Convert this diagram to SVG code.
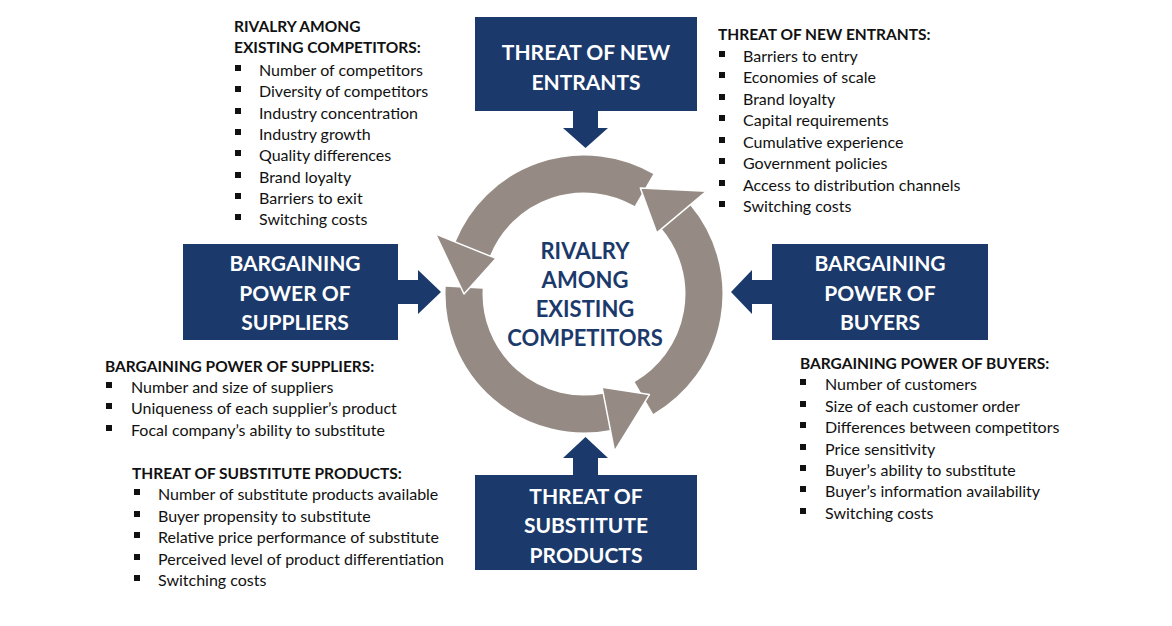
<svg xmlns="http://www.w3.org/2000/svg" width="1172" height="626" viewBox="0 0 1172 626">
<style>
.box{fill:#1b3a6b}
.bt{font-family:Lato,"Open Sans",sans-serif;font-weight:bold;font-size:21px;fill:#fff;text-anchor:middle}
.ct{font-family:Lato,"Open Sans",sans-serif;font-weight:bold;font-size:22px;fill:#1b3a6b;text-anchor:middle}
.h{font-family:Lato,"Open Sans",sans-serif;font-weight:bold;font-size:15.5px;fill:#111}
.t{font-family:Lato,"Open Sans",sans-serif;font-size:16px;fill:#111}
.b{fill:#111}
.ring{fill:none;stroke:#958b84;stroke-width:37}
.head{fill:#958b84;stroke:#fff;stroke-width:1.5;stroke-linejoin:round}
</style>
<defs><rect id="sq" width="6" height="6" class="b"/></defs>
<rect width="1172" height="626" fill="#fff"/>
<g id="cycle">
<path class="ring" d="M675.9,216.9 A120,120 0 0 1 644,397.9"/>
<path class="ring" d="M606.9,411.8 A120,120 0 0 1 464.2,287.7"/>
<path class="ring" d="M472.7,249 A120,120 0 0 1 644,190.1"/>
<polygon class="head" points="656.8,232.9 706.6,191.2 640.3,188.1"/>
<polygon class="head" points="602.1,387.3 614.5,451.1 649.4,394.6"/>
<polygon class="head" points="495.9,258.4 435.6,234.1 464,294"/>
<text class="ct" x="585" y="259">RIVALRY</text>
<text class="ct" x="585" y="288">AMONG</text>
<text class="ct" x="585" y="317">EXISTING</text>
<text class="ct" x="585" y="346">COMPETITORS</text>
</g>
<g id="connectors">
<polygon class="box" points="573,111 598,111 598,128 608,128 585.5,148 563,128 573,128"/>
<polygon class="box" points="398,280 418,280 418,270 441,292 418,314 418,304 398,304"/>
<polygon class="box" points="772,280 752,280 752,270 731,292 752,314 752,304 772,304"/>
<polygon class="box" points="573,475 598,475 598,458 608,458 585.5,437 563,458 573,458"/>
</g>
<g id="new-entrants"><rect class="box" x="475" y="17" width="222" height="94"/>
<text class="bt" x="586" y="60">THREAT OF NEW</text><text class="bt" x="586" y="90">ENTRANTS</text></g>
<g id="suppliers"><rect class="box" x="183" y="244" width="215" height="96"/>
<text class="bt" x="295" y="271">BARGAINING</text><text class="bt" x="295" y="301">POWER OF</text><text class="bt" x="295" y="330">SUPPLIERS</text></g>
<g id="buyers"><rect class="box" x="772" y="244" width="216" height="96"/>
<text class="bt" x="880" y="271">BARGAINING</text><text class="bt" x="880" y="301">POWER OF</text><text class="bt" x="880" y="330">BUYERS</text></g>
<g id="substitutes"><rect class="box" x="475" y="475" width="222" height="95"/>
<text class="bt" x="586" y="504">THREAT OF</text><text class="bt" x="586" y="533">SUBSTITUTE</text><text class="bt" x="586" y="563">PRODUCTS</text></g>
<g id="list-rivalry">
<text class="h" x="234" y="32">RIVALRY AMONG</text><text class="h" x="234" y="53">EXISTING COMPETITORS:</text>
<use href="#sq" x="235" y="65"/><text class="t" x="259" y="76">Number of competitors</text>
<use href="#sq" x="235" y="86"/><text class="t" x="259" y="97">Diversity of competitors</text>
<use href="#sq" x="235" y="108"/><text class="t" x="259" y="119">Industry concentration</text>
<use href="#sq" x="235" y="129"/><text class="t" x="259" y="140">Industry growth</text>
<use href="#sq" x="235" y="150"/><text class="t" x="259" y="161">Quality differences</text>
<use href="#sq" x="235" y="172"/><text class="t" x="259" y="183">Brand loyalty</text>
<use href="#sq" x="235" y="193"/><text class="t" x="259" y="204">Barriers to exit</text>
<use href="#sq" x="235" y="214"/><text class="t" x="259" y="225">Switching costs</text>
</g>
<g id="list-entrants">
<text class="h" x="718" y="40">THREAT OF NEW ENTRANTS:</text>
<use href="#sq" x="719" y="51"/><text class="t" x="743" y="62">Barriers to entry</text>
<use href="#sq" x="719" y="72"/><text class="t" x="743" y="83">Economies of scale</text>
<use href="#sq" x="719" y="94"/><text class="t" x="743" y="105">Brand loyalty</text>
<use href="#sq" x="719" y="115"/><text class="t" x="743" y="126">Capital requirements</text>
<use href="#sq" x="719" y="137"/><text class="t" x="743" y="148">Cumulative experience</text>
<use href="#sq" x="719" y="158"/><text class="t" x="743" y="169">Government policies</text>
<use href="#sq" x="719" y="180"/><text class="t" x="743" y="191">Access to distribution channels</text>
<use href="#sq" x="719" y="201"/><text class="t" x="743" y="212">Switching costs</text>
</g>
<g id="list-suppliers">
<text class="h" x="105" y="372">BARGAINING POWER OF SUPPLIERS:</text>
<use href="#sq" x="106" y="382"/><text class="t" x="131" y="393">Number  and size of suppliers</text>
<use href="#sq" x="106" y="403"/><text class="t" x="131" y="414">Uniqueness of each supplier’s product</text>
<use href="#sq" x="106" y="425"/><text class="t" x="131" y="436">Focal company’s ability to substitute</text>
</g>
<g id="list-substitutes">
<text class="h" x="132" y="479">THREAT OF SUBSTITUTE PRODUCTS:</text>
<use href="#sq" x="134" y="489"/><text class="t" x="158" y="500">Number of substitute products available</text>
<use href="#sq" x="134" y="511"/><text class="t" x="158" y="522">Buyer propensity to substitute</text>
<use href="#sq" x="134" y="532"/><text class="t" x="158" y="543">Relative price performance of substitute</text>
<use href="#sq" x="134" y="554"/><text class="t" x="158" y="565">Perceived level of product differentiation</text>
<use href="#sq" x="134" y="575"/><text class="t" x="158" y="586">Switching costs</text>
</g>
<g id="list-buyers">
<text class="h" x="800" y="369">BARGAINING POWER OF BUYERS:</text>
<use href="#sq" x="800" y="379"/><text class="t" x="825" y="390">Number of customers</text>
<use href="#sq" x="800" y="401"/><text class="t" x="825" y="412">Size of each customer order</text>
<use href="#sq" x="800" y="422"/><text class="t" x="825" y="433">Differences between competitors</text>
<use href="#sq" x="800" y="444"/><text class="t" x="825" y="455">Price sensitivity</text>
<use href="#sq" x="800" y="465"/><text class="t" x="825" y="476">Buyer’s ability to substitute</text>
<use href="#sq" x="800" y="486"/><text class="t" x="825" y="497">Buyer’s information availability</text>
<use href="#sq" x="800" y="508"/><text class="t" x="825" y="519">Switching costs</text>
</g>
</svg>
